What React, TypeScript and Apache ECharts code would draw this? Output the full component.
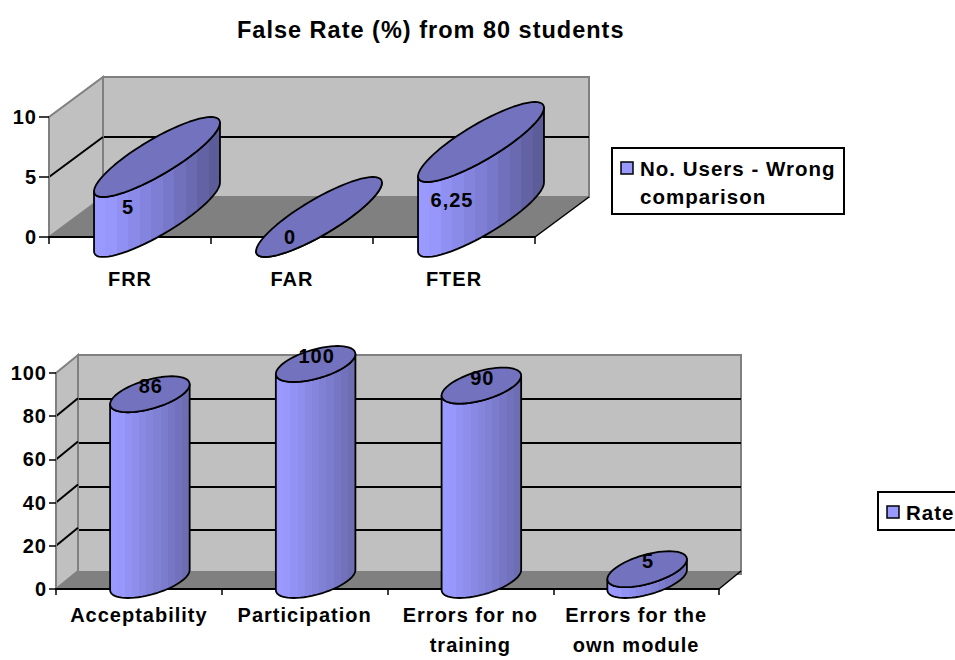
import React, { useEffect, useRef } from "react";
import * as echarts from "echarts";

const TITLE = "False Rate (%) from 80 students";

const rateCategories = ["FRR", "FAR", "FTER"];
const rateValues = [5, 0, 6.25];
const rateTicks = [0, 5, 10];
const rateSeriesName = ["No. Users - Wrong", "comparison"];

const surveyCategories = [
  "Acceptability",
  "Participation",
  "Errors for no\ntraining",
  "Errors for the\nown module",
];
const surveyValues = [86, 100, 90, 5];
const surveyTicks = [0, 20, 40, 60, 80, 100];
const surveySeriesName = ["Rate"];

const FONT = '"Liberation Sans", Arial, sans-serif';
const BLACK = "#000000";
const WALL = "#C0C0C0";
const FLOOR = "#808080";
const EDGE = "#808080";
const BAR_TOP = "#7272BE";
const BAR_LIGHT = "#9999FF";
const RAMP_UPPER = ["#9999FF", "#9797FB", "#9090F2", "#8A8AE8", "#8484DE", "#7E7ED4", "#7878CA", "#7070BC", "#6A6AB0", "#6262A4", "#5C5C98"];
const RAMP_LOWER = ["#9999FF", "#9797FC", "#9292F4", "#8E8EEC", "#8989E4", "#8585DC", "#8080D4", "#7C7CCC", "#7676C4", "#7272BC", "#6D6DB2"];

// Hard-edged stops give the faceted look of the cylinder side.
function bandedFill(ramp: string[]) {
  const stops: { offset: number; color: string }[] = [];
  ramp.forEach((color, i) => {
    stops.push({ offset: i / ramp.length, color });
    stops.push({ offset: (i + 1) / ramp.length, color });
  });
  return new echarts.graphic.LinearGradient(0, 0, 1, 0, stops);
}

function ellipsePoints(cx: number, cy: number, a: number, vx: number, vy: number, from: number, to: number, steps: number) {
  const pts: number[][] = [];
  for (let i = 0; i <= steps; i++) {
    const t = from + ((to - from) * i) / steps;
    pts.push([cx + a * Math.cos(t) + vx * Math.sin(t), cy - vy * Math.sin(t)]);
  }
  return pts;
}

// Floor, side wall and the slanted gridline stubs of the 3D box.
function wallRenderer(count: number, dx: number, dy: number, ticks: number[]) {
  return (params: any, api: any) => {
    const value = api.value(0);
    const band = api.size([1, 0])[0];
    const p = api.coord([0, value]);
    const left = p[0] - band / 2;
    const right = left + band * count;
    const y0 = api.coord([0, ticks[0]])[1];
    const yTop = api.coord([0, ticks[ticks.length - 1]])[1];
    const children: any[] = [];
    if (params.dataIndex === 0) {
      children.push({
        type: "polygon",
        shape: { points: [[left, y0], [left, yTop], [left + dx, yTop - dy], [left + dx, y0 - dy]] },
        style: { fill: WALL, stroke: EDGE, lineWidth: 2 },
      });
      children.push({
        type: "polygon",
        shape: { points: [[left, y0], [right, y0], [right + dx, y0 - dy], [left + dx, y0 - dy]] },
        style: { fill: FLOOR, stroke: null },
      });
      children.push({
        type: "line",
        shape: { x1: right, y1: y0, x2: right + dx, y2: y0 - dy },
        style: { stroke: BLACK, lineWidth: 1.5 },
      });
    }
    const inner = value !== ticks[0] && value !== ticks[ticks.length - 1];
    if (inner) {
      children.push({
        type: "line",
        shape: { x1: left, y1: p[1], x2: left + dx, y2: p[1] - dy },
        style: { stroke: BLACK, lineWidth: 2 },
      });
    }
    return { type: "group", children };
  };
}

// Slanted cylinder standing in the middle of the box depth.
function cylinderRenderer(dx: number, dy: number, ramp: string[], labelMode: "middle" | "top") {
  return (_params: any, api: any) => {
    const index = api.value(0);
    const value = api.value(1);
    const band = api.size([1, 0])[0];
    const a = band * 0.2;
    const front = api.coord([index, 0]);
    const frontTop = api.coord([index, value]);
    const cx = front[0] + dx / 2;
    const baseY = front[1] - dy / 2;
    const topY = frontTop[1] - dy / 2;
    const t0 = Math.atan2(dx, a);
    const lowerBase = ellipsePoints(cx, baseY, a, dx, dy, t0 + Math.PI, t0 + 2 * Math.PI, 32);
    const lowerTop = ellipsePoints(cx, topY, a, dx, dy, t0 + 2 * Math.PI, t0 + Math.PI, 32);
    const topRing = ellipsePoints(cx, topY, a, dx, dy, 0, 2 * Math.PI, 64);
    const text = String(value).replace(".", ",");
    const labelPos =
      labelMode === "middle"
        ? [front[0] - 2, api.coord([index, value / 2])[1]]
        : [cx + 1, topY - 8];
    return {
      type: "group",
      children: [
        {
          type: "polygon",
          shape: { points: lowerBase.concat(lowerTop) },
          style: { fill: bandedFill(ramp), stroke: BLACK, lineWidth: 1.8, lineJoin: "round" },
        },
        {
          type: "polygon",
          shape: { points: topRing },
          style: { fill: BAR_TOP, stroke: BLACK, lineWidth: 1.8, lineJoin: "round" },
        },
        {
          type: "text",
          style: {
            text,
            x: labelPos[0],
            y: labelPos[1],
            fill: BLACK,
            font: `bold 20px ${FONT}`,
            align: "center",
            verticalAlign: "middle",
          },
        },
      ],
    };
  };
}

function legendBox(x: number, y: number, w: number, h: number, lines: string[]) {
  return {
    type: "group",
    children: [
      { type: "rect", shape: { x, y, width: w, height: h }, style: { fill: "#FFFFFF", stroke: BLACK, lineWidth: 2 } },
      {
        type: "rect",
        shape: { x: x + 9, y: y + 14, width: 12, height: 12 },
        style: { fill: BAR_LIGHT, stroke: BLACK, lineWidth: 1.5 },
      },
      ...lines.map((line, i) => ({
        type: "text",
        style: {
          text: line,
          x: x + 28,
          y: y + 20 + i * 28,
          fill: BLACK,
          font: `bold 20.5px ${FONT}`,
          align: "left",
          verticalAlign: "middle",
        },
      })),
    ],
  };
}

export default function App() {
  const ref = useRef<HTMLDivElement>(null);

  useEffect(() => {
    document.body.style.margin = "0";
    const chart = echarts.init(ref.current as HTMLDivElement, null, { renderer: "svg" });

    const frontAxisLabel = { color: BLACK, fontFamily: FONT, fontWeight: "bold" as const, fontSize: 20 };
    const blackLine = { show: true, lineStyle: { color: BLACK, width: 2 } };

    chart.setOption({
      animation: false,
      backgroundColor: "#FFFFFF",
      title: {
        text: TITLE,
        left: 232,
        top: 13,
        textStyle: { color: BLACK, fontFamily: FONT, fontWeight: "bold", fontSize: 23.5 },
      },
      grid: [
        { left: 49, top: 117, width: 486, height: 120, show: false },
        { left: 103, top: 77, width: 486, height: 120, show: true, backgroundColor: WALL, borderColor: EDGE, borderWidth: 2 },
        { left: 56, top: 373, width: 663, height: 219, show: false },
        { left: 78, top: 355, width: 663, height: 219, show: true, backgroundColor: WALL, borderColor: EDGE, borderWidth: 2 },
      ],
      xAxis: [
        {
          type: "category", gridIndex: 0, data: rateCategories, z: 3,
          axisLine: blackLine,
          axisTick: { show: true, length: 7, lineStyle: { color: BLACK, width: 1.5 } },
          axisLabel: { ...frontAxisLabel, margin: 32, lineHeight: 20 },
        },
        { type: "category", gridIndex: 1, data: rateCategories, show: false },
        {
          type: "category", gridIndex: 2, data: surveyCategories, z: 3,
          axisLine: blackLine,
          axisTick: { show: true, length: 6, lineStyle: { color: BLACK, width: 1.5 } },
          axisLabel: { ...frontAxisLabel, margin: 11, lineHeight: 30, interval: 0 },
        },
        { type: "category", gridIndex: 3, data: surveyCategories, show: false },
      ],
      yAxis: [
        {
          type: "value", gridIndex: 0, min: 0, max: 10, interval: 5, z: 3,
          axisLine: { show: true, lineStyle: { color: EDGE, width: 2 } },
          axisTick: { show: true, length: 10, lineStyle: { color: BLACK, width: 1.5 } },
          axisLabel: { ...frontAxisLabel, margin: 12 },
          splitLine: { show: false },
        },
        {
          type: "value", gridIndex: 1, min: 0, max: 10, interval: 5,
          axisLine: { show: false }, axisTick: { show: false }, axisLabel: { show: false },
          splitLine: { show: true, showMinLine: false, showMaxLine: false, lineStyle: { color: BLACK, width: 2 } },
        },
        {
          type: "value", gridIndex: 2, min: 0, max: 100, interval: 20, z: 3,
          axisLine: { show: true, lineStyle: { color: EDGE, width: 2 } },
          axisTick: { show: true, length: 7, lineStyle: { color: BLACK, width: 1.5 } },
          axisLabel: { ...frontAxisLabel, margin: 9 },
          splitLine: { show: false },
        },
        {
          type: "value", gridIndex: 3, min: 0, max: 100, interval: 20,
          axisLine: { show: false }, axisTick: { show: false }, axisLabel: { show: false },
          splitLine: { show: true, showMinLine: false, showMaxLine: false, lineStyle: { color: BLACK, width: 2 } },
        },
      ],
      series: [
        {
          type: "custom", name: "rate-box", xAxisIndex: 0, yAxisIndex: 0, z: 1, silent: true,
          renderItem: wallRenderer(rateCategories.length, 54, 40, rateTicks),
          encode: { y: 0 },
          data: rateTicks.map((t) => [t]),
        },
        {
          type: "custom", name: rateSeriesName.join(" "), xAxisIndex: 0, yAxisIndex: 0, z: 4,
          renderItem: cylinderRenderer(54, 40, RAMP_UPPER, "middle"),
          encode: { x: 0, y: 1 },
          data: rateValues.map((v, i) => [i, v]),
        },
        {
          type: "custom", name: "survey-box", xAxisIndex: 2, yAxisIndex: 2, z: 1, silent: true,
          renderItem: wallRenderer(surveyCategories.length, 22, 18, surveyTicks),
          encode: { y: 0 },
          data: surveyTicks.map((t) => [t]),
        },
        {
          type: "custom", name: surveySeriesName[0], xAxisIndex: 2, yAxisIndex: 2, z: 4,
          renderItem: cylinderRenderer(22, 18, RAMP_LOWER, "top"),
          encode: { x: 0, y: 1 },
          data: surveyValues.map((v, i) => [i, v]),
        },
      ],
      graphic: [
        legendBox(612, 148, 232, 66, rateSeriesName),
        legendBox(878, 492, 90, 38, surveySeriesName),
      ],
    });

    return () => chart.dispose();
  }, []);

  return (
    <div
      ref={ref}
      style={{ position: "fixed", left: 0, top: 0, width: 955, height: 660, letterSpacing: "1px" }}
    />
  );
}
